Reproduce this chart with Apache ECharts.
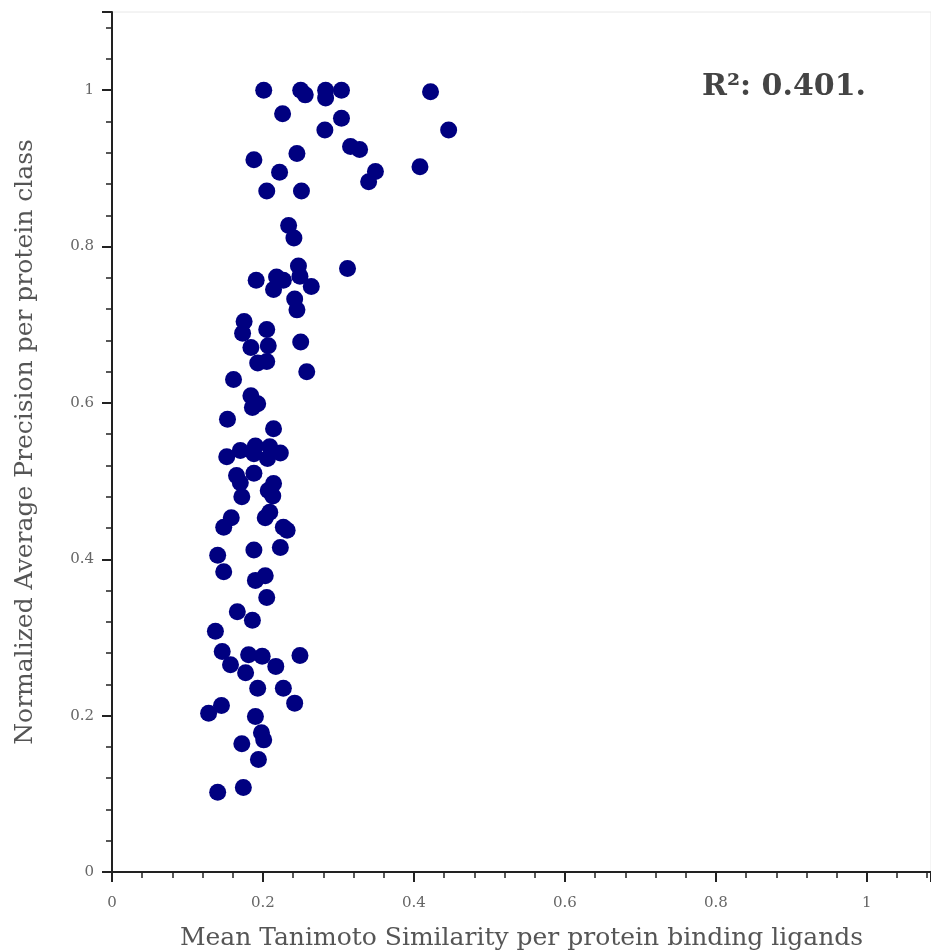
<!DOCTYPE html>
<html>
<head>
<meta charset="utf-8">
<title>Tanimoto similarity vs average precision</title>
<script src="https://cdn.jsdelivr.net/npm/echarts@6/dist/echarts.min.js"></script>
<style>
  html, body { margin: 0; padding: 0; background: #fff; }
  #chart { width: 931px; height: 951px; }
</style>
</head>
<body>
<div id="chart"></div>
<script>
// mean Tanimoto similarity (x) and normalized average precision (y), one entry per protein class
const similarity = [
  0.201, 0.250, 0.256, 0.283, 0.283, 0.304, 0.422, 0.446, 0.226, 0.304,
  0.282, 0.316, 0.328, 0.188, 0.245, 0.408, 0.349, 0.340, 0.222, 0.205,
  0.251, 0.234, 0.241, 0.191, 0.218, 0.227, 0.214, 0.247, 0.249, 0.264,
  0.312, 0.242, 0.245, 0.175, 0.173, 0.205, 0.184, 0.207, 0.193, 0.205,
  0.250, 0.258, 0.161, 0.184, 0.186, 0.193, 0.153, 0.214, 0.152, 0.170,
  0.190, 0.209, 0.223, 0.206, 0.188, 0.165, 0.188, 0.170, 0.214, 0.207,
  0.172, 0.213, 0.158, 0.148, 0.209, 0.203, 0.227, 0.232, 0.140, 0.188,
  0.223, 0.148, 0.190, 0.203, 0.205, 0.166, 0.186, 0.137, 0.146, 0.157,
  0.181, 0.199, 0.177, 0.217, 0.249, 0.193, 0.227, 0.242, 0.128, 0.145,
  0.190, 0.198, 0.201, 0.172, 0.194, 0.174, 0.140
];
const precision = [
  1.000, 1.000, 0.994, 1.000, 0.990, 1.000, 0.998, 0.949, 0.970, 0.964,
  0.949, 0.928, 0.924, 0.911, 0.919, 0.902, 0.896, 0.883, 0.895, 0.871,
  0.871, 0.827, 0.811, 0.757, 0.761, 0.757, 0.745, 0.775, 0.762, 0.749,
  0.772, 0.733, 0.719, 0.704, 0.689, 0.694, 0.671, 0.673, 0.651, 0.653,
  0.678, 0.640, 0.630, 0.609, 0.594, 0.599, 0.579, 0.567, 0.531, 0.539,
  0.545, 0.544, 0.536, 0.529, 0.535, 0.507, 0.510, 0.498, 0.497, 0.488,
  0.480, 0.481, 0.453, 0.441, 0.460, 0.453, 0.441, 0.437, 0.405, 0.412,
  0.415, 0.384, 0.373, 0.379, 0.351, 0.333, 0.322, 0.308, 0.282, 0.265,
  0.278, 0.276, 0.255, 0.263, 0.277, 0.235, 0.235, 0.216, 0.203, 0.213,
  0.199, 0.178, 0.169, 0.164, 0.144, 0.108, 0.102
];
const rSquaredText = 'R²: 0.401.';
const xName = 'Mean Tanimoto Similarity per protein binding ligands';
const yName = 'Normalized Average Precision per protein class';

const points = similarity.map((x, i) => [x, precision[i]]);

const chart = echarts.init(document.getElementById('chart'));

const labelStyle = { fontFamily: 'DejaVu Serif', fontSize: 15, color: '#666' };
const axisCommon = {
  type: 'value',
  min: 0,
  interval: 0.2,
  nameLocation: 'middle',
  nameTextStyle: { fontFamily: 'DejaVu Serif', fontSize: 25, color: '#555' },
  axisLine: { show: true, lineStyle: { color: '#222', width: 2 } },
  axisTick: { show: true, length: 10, lineStyle: { color: '#222', width: 2 } },
  minorTick: { show: true, splitNumber: 5, length: 6, lineStyle: { color: '#222', width: 1.5 } },
  splitLine: { show: false },
  axisLabel: {
    ...labelStyle,
    showMaxLabel: false,
    formatter: v => (Math.round(v * 10) / 10).toString()
  }
};

chart.setOption({
  animation: false,
  backgroundColor: '#fff',
  title: {
    text: rSquaredText,
    left: 697,
    top: 67,
    textStyle: { fontFamily: 'DejaVu Serif', fontSize: 30, fontWeight: 'bold', color: '#444' }
  },
  grid: {
    left: 112,
    right: 0,
    top: 12,
    bottom: 79,
    outerBoundsMode: 'none',
    show: true,
    borderColor: '#e8e8e8',
    borderWidth: 1
  },
  xAxis: {
    ...axisCommon,
    max: 1.085,
    name: xName,
    nameGap: 54,
    axisLabel: { ...axisCommon.axisLabel, margin: 24 }
  },
  yAxis: {
    ...axisCommon,
    max: 1.1,
    name: yName,
    nameGap: 74,
    axisLabel: { ...axisCommon.axisLabel, margin: 18 }
  },
  series: [
    {
      type: 'scatter',
      data: points,
      symbolSize: 17,
      itemStyle: { color: '#000080', opacity: 1 }
    }
  ]
});
</script>
</body>
</html>
